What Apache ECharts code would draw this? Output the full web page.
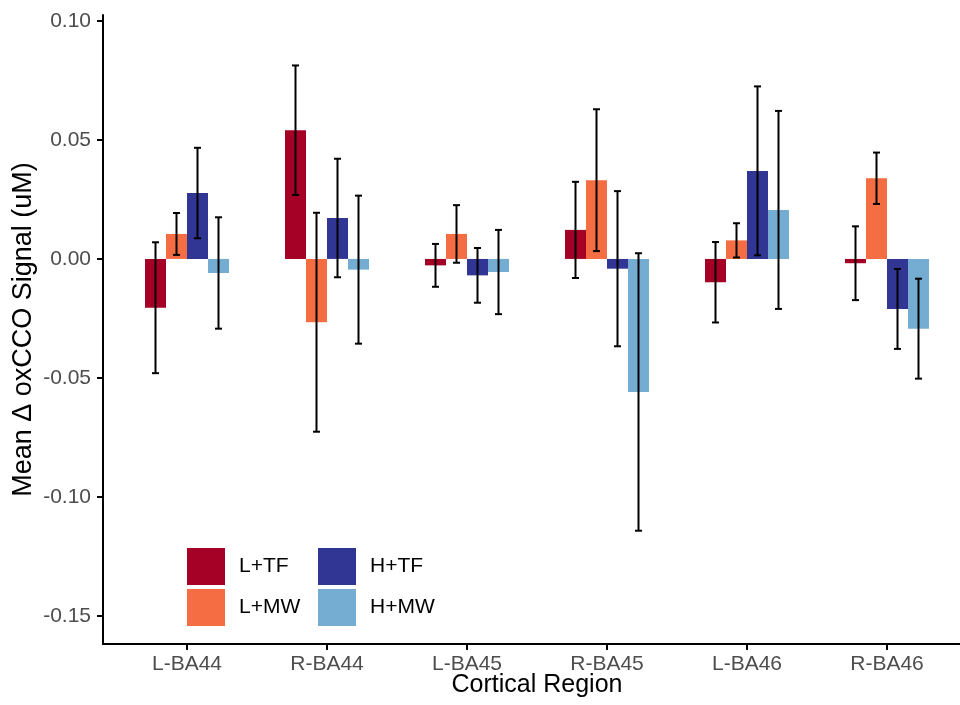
<!DOCTYPE html>
<html>
<head>
<meta charset="utf-8">
<script src="https://cdn.jsdelivr.net/npm/echarts@6/dist/echarts.min.js"></script>
<style>
  html, body { margin: 0; padding: 0; background: #fff; }
  #chart { width: 960px; height: 705px; }
</style>
</head>
<body>
<div id="chart"></div>
<script>
const regions = ['L-BA44', 'R-BA44', 'L-BA45', 'R-BA45', 'L-BA46', 'R-BA46']
const groups = ['L+TF', 'L+MW', 'H+TF', 'H+MW']
const colors = ['#A50026', '#F46D43', '#313695', '#74ADD1']

// means and standard errors, one array per group
const ltf = [-0.0205, 0.0541, -0.0027, 0.0122, -0.0098, -0.0018]
const ltfSe = [0.0275, 0.0272, 0.0090, 0.0202, 0.0169, 0.0155]
const lmw = [0.0105, -0.0266, 0.0105, 0.0331, 0.0078, 0.0339]
const lmwSe = [0.0088, 0.0460, 0.0121, 0.0298, 0.0072, 0.0108]
const htf = [0.0277, 0.0172, -0.0069, -0.0041, 0.0370, -0.0210]
const htfSe = [0.0190, 0.0249, 0.0115, 0.0326, 0.0355, 0.0168]
const hmw = [-0.0059, -0.0045, -0.0055, -0.0559, 0.0206, -0.0293]
const hmwSe = [0.0234, 0.0311, 0.0177, 0.0583, 0.0416, 0.0210]

const yTicks = [-0.15, -0.10, -0.05, 0.00, 0.05, 0.10]

const means = [ltf, lmw, htf, hmw]
const ses = [ltfSe, lmwSe, htfSe, hmwSe]

const Y_MIN = -0.1618
const Y_MAX = 0.1025
const BAR_W = 21
const FONT = 'Liberation Sans, Arial, sans-serif'

const chart = echarts.init(document.getElementById('chart'))

const barSeries = groups.map((name, k) => ({
  name,
  type: 'bar',
  xAxisIndex: 1,
  yAxisIndex: 1,
  data: means[k],
  barWidth: BAR_W,
  barGap: '0%',
  itemStyle: { color: colors[k] },
  emphasis: { disabled: true },
  z: 2
}))

const errSeries = groups.map((name, k) => ({
  name: name + ' se',
  type: 'custom',
  xAxisIndex: 1,
  yAxisIndex: 1,
  z: 5,
  silent: true,
  data: means[k].map((m, i) => [i, m - ses[k][i], m + ses[k][i]]),
  renderItem: (params, api) => {
    const lo = api.coord([api.value(0), api.value(1)])
    const hi = api.coord([api.value(0), api.value(2)])
    const x = lo[0] + (k - 1.5) * BAR_W
    const cap = 3.5
    const style = { stroke: '#000', lineWidth: 2 }
    return {
      type: 'group',
      children: [
        { type: 'line', shape: { x1: x, y1: lo[1], x2: x, y2: hi[1] }, style },
        { type: 'line', shape: { x1: x - cap, y1: lo[1], x2: x + cap, y2: lo[1] }, style },
        { type: 'line', shape: { x1: x - cap, y1: hi[1], x2: x + cap, y2: hi[1] }, style }
      ]
    }
  }
}))

const legendBase = {
  orient: 'vertical',
  icon: 'rect',
  itemWidth: 38,
  itemHeight: 37,
  itemGap: 4,
  padding: 0,
  selectedMode: false,
  textStyle: { fontSize: 21, color: '#000', fontFamily: FONT, padding: [0, 0, 0, 9] }
}

chart.setOption({
  animation: false,
  textStyle: { fontFamily: FONT },
  legend: [
    { ...legendBase, data: ['L+TF', 'L+MW'], left: 187, top: 548 },
    { ...legendBase, data: ['H+TF', 'H+MW'], left: 318, top: 548 }
  ],
  grid: [
    { left: 103, top: 15, right: -11, bottom: 61, outerBoundsMode: 'none', containLabel: false },
    { left: 117, top: 15, right: 3, bottom: 61, outerBoundsMode: 'none', containLabel: false }
  ],
  xAxis: [
    {
      gridIndex: 0,
      type: 'value',
      min: 0,
      max: 1,
      name: 'Cortical Region',
      nameLocation: 'middle',
      nameGap: 29,
      nameMoveOverlap: false,
      nameTextStyle: { fontSize: 25, color: '#000', fontFamily: FONT },
      axisLine: { show: true, onZero: false, lineStyle: { color: '#000', width: 2 } },
      axisTick: { show: false },
      axisLabel: { show: false },
      splitLine: { show: false }
    },
    {
      gridIndex: 1,
      type: 'category',
      data: regions,
      axisLine: { show: true, onZero: false, lineStyle: { color: '#000', width: 2 } },
      axisTick: { show: true, alignWithLabel: true, length: 6, lineStyle: { color: '#000', width: 2 } },
      axisLabel: { fontSize: 21, color: '#4D4D4D', margin: 10, fontFamily: FONT },
      splitLine: { show: false }
    }
  ],
  yAxis: [
    {
      gridIndex: 0,
      type: 'value',
      min: Y_MIN,
      max: Y_MAX,
      name: 'Mean Δ oxCCO Signal (uM)',
      nameLocation: 'middle',
      nameGap: 66,
      nameMoveOverlap: false,
      nameTextStyle: { fontSize: 27, color: '#000', fontFamily: FONT },
      axisLine: { show: true, onZero: false, lineStyle: { color: '#000', width: 2 } },
      axisTick: { show: true, length: 6, customValues: yTicks, lineStyle: { color: '#000', width: 2 } },
      axisLabel: {
        fontSize: 21,
        color: '#4D4D4D',
        margin: 12,
        fontFamily: FONT,
        customValues: yTicks,
        formatter: v => v.toFixed(2)
      },
      splitLine: { show: false }
    },
    {
      gridIndex: 1,
      type: 'value',
      min: Y_MIN,
      max: Y_MAX,
      show: false
    }
  ],
  series: [...barSeries, ...errSeries]
})
</script>
</body>
</html>
